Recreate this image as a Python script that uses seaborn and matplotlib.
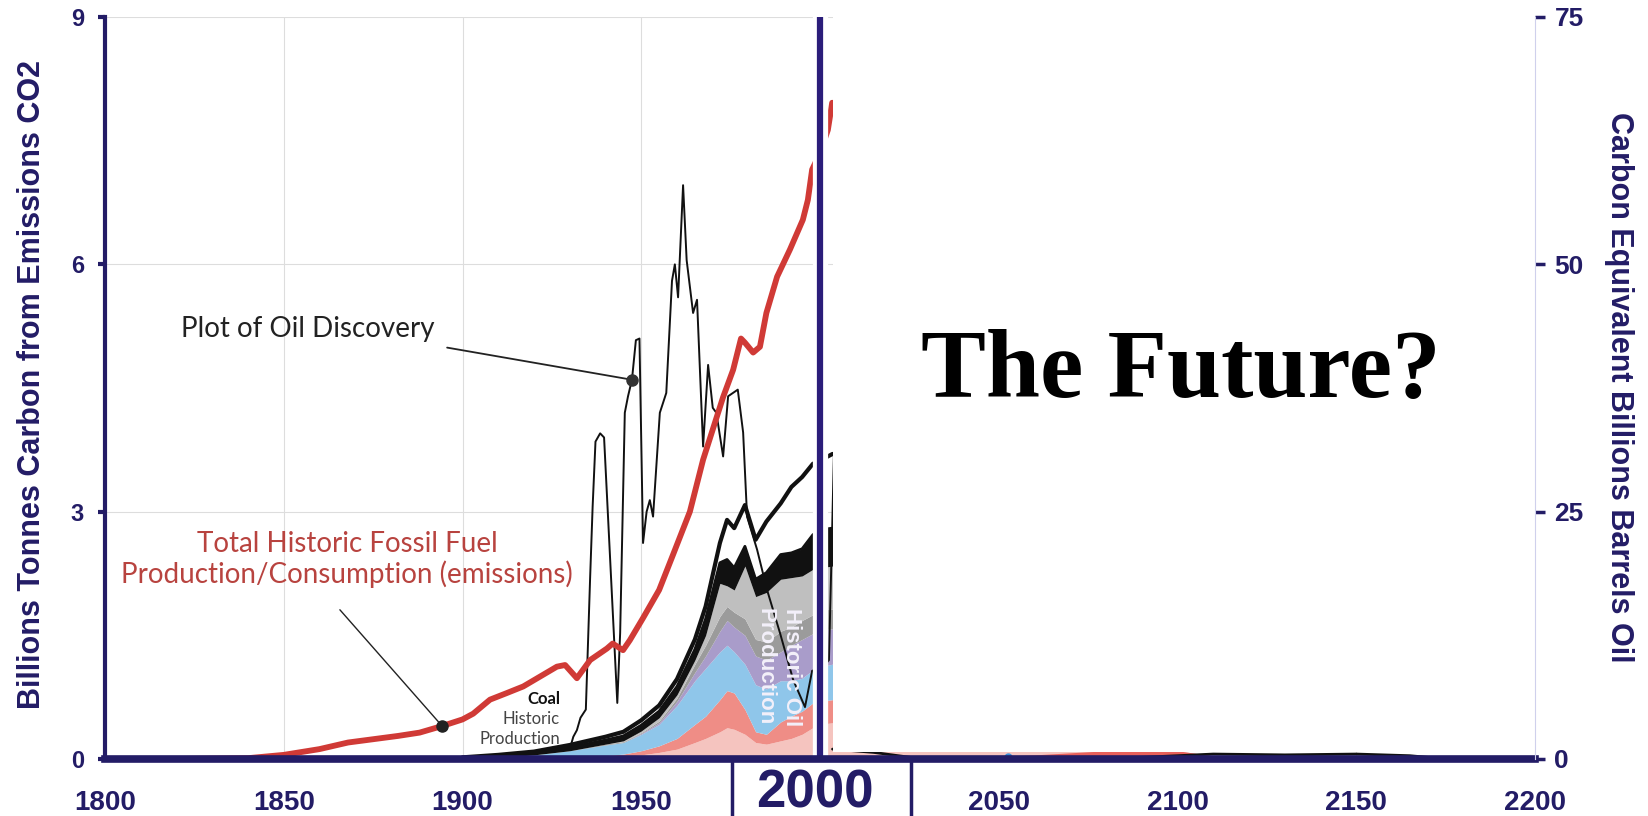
import matplotlib
matplotlib.use("Agg")
import matplotlib.pyplot as plt
import matplotlib.transforms as mtransforms
from matplotlib.patches import Rectangle
import seaborn as sns

# --- total historic fossil fuel emissions (red line), billions tonnes carbon
red_years = [1800, 1820, 1840, 1845, 1850, 1860, 1868, 1875, 1882, 1888,
             1894.3, 1900, 1903, 1907.7, 1912.4, 1917, 1921.7, 1926.4, 1928.7, 1932,
             1935.7, 1940.4, 1942, 1944.9, 1946.8, 1950.5, 1955, 1959, 1963.6, 1967.3,
             1972.9, 1975.7, 1977.9, 1979, 1981.3, 1983.2, 1985, 1988, 1991.6, 1995.2,
             1996.6, 1997.8, 2000, 2002.2, 2003.4]
red_vals = [0.0, 0.0, 0.01, 0.03, 0.05, 0.12, 0.2, 0.24, 0.28, 0.32,
            0.40, 0.48, 0.55, 0.72, 0.8, 0.88, 1.0, 1.12, 1.14, 0.98,
            1.2, 1.34, 1.4, 1.32, 1.44, 1.71, 2.05, 2.49, 3.0, 3.63,
            4.39, 4.72, 5.1, 5.05, 4.93, 5.0, 5.41, 5.85, 6.18, 6.54,
            6.78, 7.15, 7.35, 7.63, 7.96]

# --- oil discovery (thin black line)
disc_years = [1930, 1931, 1932, 1933, 1934.5, 1935.7, 1936.4, 1937.2, 1938.5, 1939.6,
              1943.3, 1944.1, 1945.4, 1946.3, 1947.4, 1948.5, 1949.5, 1950.5, 1951.5, 1952.4,
              1953.3, 1955.2, 1957, 1958.6, 1959.4, 1960.3, 1961.7, 1962.7, 1964.5, 1965.6,
              1967.3, 1968.7, 1970, 1971, 1972.9, 1974.3, 1977, 1978.5, 1979.6, 1982.4,
              1985.2, 1988.8, 1992.5, 1995.8, 1997.8, 2000.5, 2002.5, 2003.3, 2004]
disc_vals = [0.12, 0.27, 0.35, 0.5, 0.6, 2.2, 3.06, 3.85, 3.95, 3.9,
             0.68, 1.53, 4.2, 4.4, 4.6, 5.08, 5.1, 2.62, 3.0, 3.14,
             2.94, 4.2, 4.44, 5.8, 6.0, 5.6, 6.96, 6.05, 5.41, 5.57,
             3.79, 4.78, 4.26, 4.2, 3.67, 4.4, 4.48, 3.96, 2.94, 2.54,
             2.05, 1.53, 0.96, 0.63, 1.07, 1.1, 1.2, 2.6, 3.9]

# --- historic production stack (cumulative tops)
stack_years = [1900, 1910, 1920, 1930, 1940, 1945, 1950, 1955, 1960, 1965, 1968, 1972,
               1974, 1976, 1979, 1982, 1985, 1989, 1992, 1995, 1998, 2000, 2003.5]
pink_top = [0, 0, 0, 0.01, 0.02, 0.03, 0.05, 0.08, 0.12, 0.2, 0.25, 0.33,
            0.38, 0.36, 0.3, 0.2, 0.18, 0.22, 0.25, 0.3, 0.38, 0.42, 0.44]
salmon_top = [0, 0, 0.01, 0.02, 0.04, 0.06, 0.1, 0.16, 0.25, 0.42, 0.52, 0.72,
              0.83, 0.8, 0.6, 0.33, 0.3, 0.45, 0.52, 0.58, 0.68, 0.7, 0.72]
blue_top = [0, 0.02, 0.05, 0.1, 0.17, 0.2, 0.3, 0.42, 0.65, 0.95, 1.1, 1.3,
            1.38, 1.3, 1.15, 0.9, 0.85, 0.95, 0.95, 0.98, 1.08, 1.12, 1.15]
lav_top = [0, 0.02, 0.05, 0.1, 0.17, 0.2, 0.31, 0.44, 0.7, 1.05, 1.25, 1.55,
           1.68, 1.6, 1.5, 1.25, 1.2, 1.3, 1.38, 1.45, 1.52, 1.56, 1.58]
dgray_top = [0, 0.02, 0.05, 0.1, 0.18, 0.21, 0.32, 0.46, 0.74, 1.15, 1.38, 1.73,
             1.85, 1.78, 1.7, 1.45, 1.42, 1.55, 1.6, 1.68, 1.75, 1.8, 1.82]
band_bottom = [0, 0.02, 0.05, 0.1, 0.18, 0.22, 0.34, 0.5, 0.78, 1.2, 1.5, 2.13,
               2.1, 2.05, 2.34, 1.97, 2.02, 2.18, 2.2, 2.22, 2.3, 2.32, 2.34]
band_top = [0.0, 0.03, 0.07, 0.14, 0.23, 0.28, 0.41, 0.58, 0.88, 1.33, 1.7, 2.38,
            2.42, 2.32, 2.58, 2.18, 2.26, 2.48, 2.5, 2.55, 2.72, 2.78, 2.8]
prod_top = [0.02, 0.05, 0.09, 0.17, 0.27, 0.33, 0.47, 0.65, 0.97, 1.45, 1.85, 2.62,
            2.9, 2.8, 3.08, 2.66, 2.88, 3.1, 3.3, 3.42, 3.58, 3.62, 3.7]

# --- the (mostly hidden) future
fut_years = [2003.5, 2030, 2060, 2080, 2100, 2116]
fut_pink = [0.5, 0.2, 0.1, 0.1, 0.1, 0.0]
fut_red = [0.0, 0.0, 0.05, 0.1, 0.1, 0.0]
fut_line_years = [2003.5, 2015, 2027, 2050, 2090, 2110, 2130, 2150, 2165, 2175]
fut_line_vals = [0.12, 0.08, 0.01, 0.005, 0.02, 0.06, 0.05, 0.06, 0.04, 0.0]

x_ticks = [1800, 1850, 1900, 1950, 2000, 2050, 2100, 2150, 2200]
x_labels = ['1800', '1850', '1900', '1950', '', '2050', '2100', '2150', '2200']
left_ticks = [0, 3, 6, 9]
right_ticks = [0, 25, 50, 75]

NAVY = '#231c66'
RED = '#d03a36'

sns.set_style('white')
plt.rcParams['font.family'] = ['Liberation Sans', 'DejaVu Sans']

fig = plt.figure(figsize=(16.48, 8.16), dpi=100)
ax = fig.add_axes([105 / 1648, 57 / 816, 1430 / 1648, 742 / 816])
ax.set_xlim(1800, 2200)
ax.set_ylim(0, 9)

# stacked historic production
ax.fill_between(stack_years, 0, pink_top, color='#f5c4bf', lw=0, zorder=2)
ax.fill_between(stack_years, pink_top, salmon_top, color='#ef8d86', lw=0, zorder=2)
ax.fill_between(stack_years, salmon_top, blue_top, color='#8fc6ea', lw=0, zorder=2)
ax.fill_between(stack_years, blue_top, lav_top, color='#a99cca', lw=0, zorder=2)
ax.fill_between(stack_years, lav_top, dgray_top, color='#9b9b9b', lw=0, zorder=2)
ax.fill_between(stack_years, dgray_top, band_bottom, color='#bfbfbf', lw=0, zorder=2)
ax.fill_between(stack_years, band_bottom, band_top, color='#111111', lw=0, zorder=3)
sns.lineplot(x=stack_years, y=band_top, ax=ax, color='#111111', linewidth=2, zorder=4)
sns.lineplot(x=stack_years, y=prod_top, ax=ax, color='#111111', linewidth=3, zorder=4)

# future strip
ax.fill_between(fut_years, 0, fut_pink, color='#f5c4bf', lw=0, zorder=2)
ax.fill_between(fut_years, 0, fut_red, color='#e8605a', lw=0, zorder=2)
sns.lineplot(x=fut_line_years, y=fut_line_vals, ax=ax, color='#111111', linewidth=2, zorder=4)
ax.plot([2052.6], [0.02], 'o', color='#3a8fd9', ms=5, zorder=5)

# discovery + emissions
sns.lineplot(x=disc_years, y=disc_vals, ax=ax, color='#111111', linewidth=1.4, zorder=6)
sns.lineplot(x=red_years, y=red_vals, ax=ax, color=RED, linewidth=4.2, zorder=7)

# annotations
note_font = ['Lato', 'DejaVu Sans']
ax.plot([1895.7, 1947.4], [4.99, 4.6], color='#222222', lw=1.3, zorder=8)
ax.plot([1947.4], [4.6], 'o', color='#333333', ms=8, zorder=9)
ax.text(1856.8, 5.21, 'Plot of Oil Discovery', fontsize=20, color='#222222',
        family=note_font, ha='center', va='center', zorder=9)

ax.plot([1865.7, 1894.3], [1.81, 0.40], color='#222222', lw=1, zorder=8)
ax.plot([1894.3], [0.40], 'o', color='#222222', ms=8, zorder=9)
ax.text(1867.7, 2.42, 'Total Historic Fossil Fuel\nProduction/Consumption (emissions)',
        fontsize=20, color='#b8433f', family=note_font, ha='center', va='center',
        linespacing=1.15, zorder=9)

ax.text(1927.3, 0.73, 'Coal', fontsize=12, weight='bold', color='#111111',
        family=note_font, ha='right', va='center', zorder=9)
ax.text(1927.3, 0.49, 'Historic', fontsize=12, color='#444444',
        family=note_font, ha='right', va='center', zorder=9)
ax.text(1927.3, 0.24, 'Production', fontsize=12, color='#444444',
        family=note_font, ha='right', va='center', zorder=9)

ax.text(1988.3, 1.12, 'Historic Oil\nProduction', rotation=-90, fontsize=16,
        weight='bold', color='#f3f0fa', ha='center', va='center',
        multialignment='center', linespacing=1.3, zorder=10)

# cover the future
ax.add_patch(Rectangle((2003.6, 0.085), 2200 - 2003.6, 9.5, facecolor='white',
                       edgecolor='none', zorder=15))
ax.text(2101, 4.68, 'The Future?', fontsize=70, weight='bold', family='Liberation Serif',
        color='black', ha='center', va='center', zorder=20)

# 2000 divider
ax.axvline(2000, color='white', lw=11, zorder=16)
ax.axvline(2000, color='#2b1d7a', lw=4.5, zorder=17)

# axes styling
ax.grid(True, color='#dddddd', lw=0.8)
ax.set_axisbelow(True)
ax.set_xticks(x_ticks)
ax.set_xticklabels(x_labels)
ax.set_yticks(left_ticks)
ax.tick_params(axis='x', direction='out', length=5, width=3, color=NAVY,
               labelsize=20, labelcolor=NAVY, pad=17)
ax.tick_params(axis='y', direction='out', length=5, width=3, color=NAVY,
               labelsize=17, labelcolor=NAVY, pad=10)
for lab in ax.get_xticklabels() + ax.get_yticklabels():
    lab.set_fontweight('bold')
for side in ['top', 'right']:
    ax.spines[side].set_visible(False)
ax.spines['left'].set_color(NAVY)
ax.spines['left'].set_linewidth(3)
ax.spines['bottom'].set_color(NAVY)
ax.spines['bottom'].set_linewidth(5.5)
for side in ['left', 'bottom']:
    ax.spines[side].set_zorder(18)

ax.set_xlabel('')
ax.set_ylabel('Billions Tonnes Carbon from Emissions CO2', fontsize=22,
              fontweight='bold', color=NAVY, va='center')
ax.yaxis.set_label_coords(-0.051, 0.505)

# big 2000 label with its box
trans = mtransforms.blended_transform_factory(ax.transData, ax.transAxes)
ax.text(1998.5, -0.047, '2000', transform=trans, fontsize=38, weight='bold',
        color=NAVY, ha='center', va='center', clip_on=False)
for xb in [1975.4, 2025.5]:
    ax.plot([xb, xb], [0, -0.1], transform=trans, color=NAVY, lw=2.5, clip_on=False)

# right axis
ax2 = ax.twinx()
ax2.set_ylim(0, 75)
ax2.set_yticks(right_ticks)
ax2.tick_params(axis='y', direction='out', length=7, width=2.5, color=NAVY,
                labelsize=19, labelcolor=NAVY, pad=7)
for lab in ax2.get_yticklabels():
    lab.set_fontweight('bold')
for side in ['top', 'left', 'bottom']:
    ax2.spines[side].set_visible(False)
ax2.spines['right'].set_color('#cfd0ec')
ax2.spines['right'].set_linewidth(0.8)
ax2.grid(False)
ax2.set_ylabel('Carbon Equivalent Billions Barrels Oil', rotation=-90, fontsize=22,
               fontweight='bold', color=NAVY, va='center')
ax2.yaxis.set_label_coords(1.0587, 0.501)

fig.savefig('out.png', dpi=100)
